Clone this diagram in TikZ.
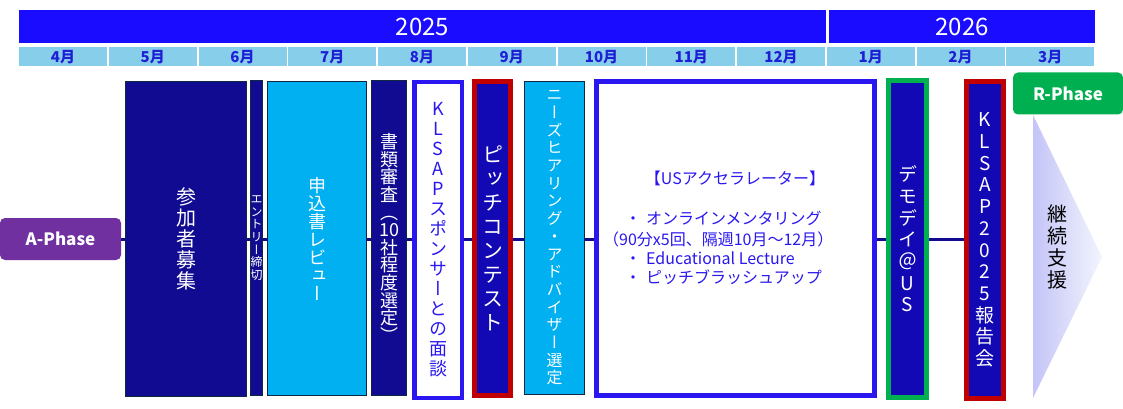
\documentclass[tikz,border=0pt]{standalone}
\usepackage{fontspec}
\setmainfont{Noto Sans CJK JP}
\newfontfamily\vjp[RawFeature=+vert]{Noto Sans CJK JP}
\usetikzlibrary{backgrounds}
\definecolor{hdr}{HTML}{1A0DFF}
\definecolor{mcell}{HTML}{87CEEB}
\definecolor{mtext}{HTML}{1F1FD6}
\definecolor{navy}{HTML}{110B91}
\definecolor{edge}{HTML}{0E2841}
\definecolor{cyanbox}{HTML}{00B0F0}
\definecolor{bluebd}{HTML}{2A17F0}
\definecolor{redbd}{HTML}{C00000}
\definecolor{greenbd}{HTML}{00B050}
\definecolor{pitchfill}{HTML}{1208B4}
\definecolor{purp}{HTML}{7030A0}
\definecolor{tri1}{HTML}{C4C4F7}
\definecolor{tri2}{HTML}{F2F5FD}

\ExplSyntaxOn
\NewDocumentCommand\vt{mm}{
  \vbox{
    \baselineskip=#1 \lineskiplimit=-\maxdimen \lineskip=0pt
    \tl_map_inline:nn {#2} { \hbox_to_wd:nn {0pt} { \hss ##1 \hss } }
  }
}
\ExplSyntaxOff

\tikzset{
  ybar/.style={fill=hdr, inner sep=0pt, text=white, font=\fontsize{24}{26}\selectfont},
  monthcell/.style={fill=mcell, inner sep=0pt, minimum width=88pt, minimum height=19pt,
    text=mtext, font=\bfseries\fontsize{15}{17}\selectfont},
  thinbox/.style={draw=edge, line width=1.2pt, inner sep=0pt},
  thickbox/.style={line width=5pt, inner sep=0pt},
  vfont/.style={font=\vjp\fontsize{#1}{#1}\selectfont},
  phase/.style={inner sep=0pt, rounded corners=5pt, text=white,
    font=\bfseries\fontsize{17}{20}\selectfont},
  ustext/.style={inner sep=0pt, text=bluebd, font=\fontsize{16}{18}\selectfont},
  conn/.style={draw=navy, line width=3pt}
}

\begin{document}
\begin{tikzpicture}[x=1pt,y=-1pt]
\useasboundingbox (0,0) rectangle (1123,409);

% year bars
\node[ybar, minimum width=807pt, minimum height=33pt] (y2025) at (422.5,26.5) {2025};
\node[ybar, minimum width=266pt, minimum height=33pt] (y2026) at (962,26.5) {2026};

% month cells
\foreach \m [count=\i from 0] in {4,5,6,7,8,9,10,11,12,1,2,3}
  \node[monthcell] (m\m) at ({63+89.75*\i},57) {\m 月};

% phase labels
\node[phase, fill=purp, minimum width=121pt, minimum height=42pt] (aphase) at (60.5,239) {A-Phase};
\node[phase, fill=greenbd, minimum width=110pt, minimum height=42pt] (rphase) at (1068,93.5) {R-Phase};

% boxes
\node[thinbox, fill=navy, text=white, vfont=20, minimum width=120.8pt, minimum height=314.8pt]
  (recruit) at (186,239) {\vt{21pt}{参加者募集}};
\node[thinbox, fill=navy, text=white, vfont=12, minimum width=11.8pt, minimum height=314.8pt]
  (entry) at (256.5,238) {\vt{12.6pt}{エントリー締切}};
\node[thinbox, fill=cyanbox, text=white, vfont=18, minimum width=98.8pt, minimum height=313.8pt]
  (review) at (317,238.5) {\vt{18pt}{申込書レビュー}};
\node[thinbox, fill=navy, text=white, vfont=18, minimum width=34.8pt, minimum height=314.8pt]
  (docs) at (389,238) {\vt{17.6pt}{書類審査（{10}社程度選定）}};
\node[draw=bluebd, fill=white, text=bluebd, line width=4.5pt, inner sep=0pt, vfont=18,
  minimum width=47.5pt, minimum height=315.5pt]
  (sponsor) at (438,240) {\vt{20pt}{KLSAPスポンサーとの面談}};
\node[thickbox, draw=redbd, fill=pitchfill, text=white, vfont=21, minimum width=36pt, minimum height=314pt]
  (pitch) at (492.5,238.5) {\vt{24pt}{ピッチコンテスト}};
\node[thinbox, fill=cyanbox, text=white, vfont=16, minimum width=59.8pt, minimum height=312.8pt]
  (needs) at (554.5,238) {\vt{17.7pt}{ニーズヒアリング・アドバイザー選定}};
\node[thickbox, draw=bluebd, fill=white, minimum width=278pt, minimum height=314pt]
  (usacc) at (735.5,238.5) {};
\node[thickbox, draw=greenbd, fill=pitchfill, text=white, vfont=19, minimum width=38pt, minimum height=317pt]
  (demo) at (907.5,239) {\vt{21.7pt}{デモデイ＠US}};
\node[thickbox, draw=redbd, fill=pitchfill, text=white, vfont=19, minimum width=37pt, minimum height=317pt]
  (rep) at (985,240) {\vt{21.7pt}{KLSAP2025報告会}};

% accelerator text
\node[ustext] (ust) at (735,178) {【USアクセラレーター】};
\node[ustext, anchor=west] (us1) at (625,218) {・\hspace{5pt}オンラインメンタリング};
\node[ustext, anchor=west] (us2) at (603,239) {（90分x5回、隔週10月～12月）};
\node[ustext, anchor=west] (us3) at (625,258) {・\hspace{5pt}Educational Lecture};
\node[ustext, anchor=west] (us4) at (625,277) {・\hspace{5pt}ピッチブラッシュアップ};

% R-phase arrow
\shade[left color=tri1, right color=tri2] (1033,115) -- (1102,257) -- (1033,398) -- cycle;
\node[inner sep=0pt, text=black, vfont=20] (support) at (1057,247) {\vt{22pt}{継続支援}};

% timeline connector
\begin{pgfonlayer}{background}
\draw[conn] (aphase.east) -- (rep.west |- aphase.east);
\end{pgfonlayer}
\end{tikzpicture}
\end{document}
